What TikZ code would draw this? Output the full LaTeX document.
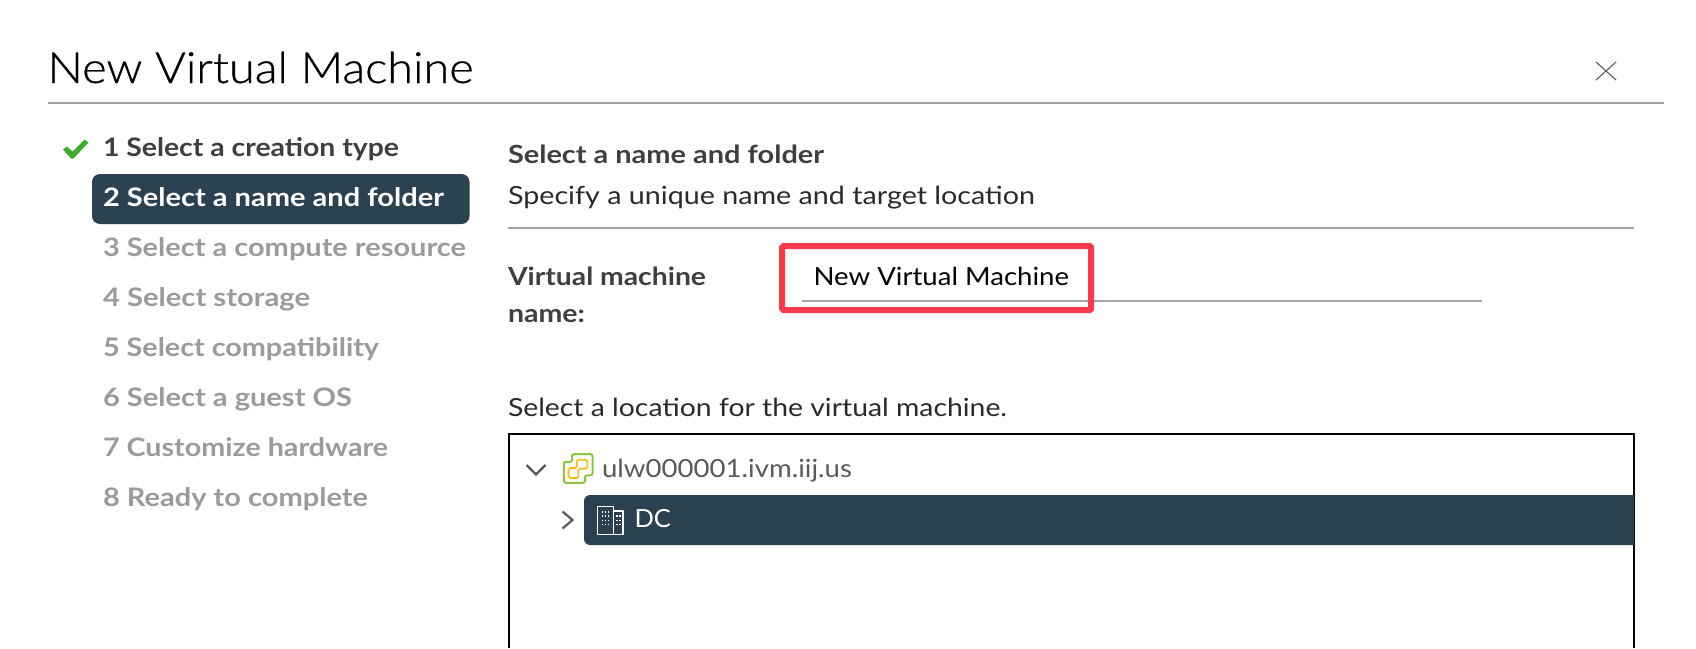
\documentclass[tikz,border=0pt]{standalone}
\usepackage{fontspec}
\usepackage{graphicx}
\setmainfont{Lato}
\newfontfamily\boldf{Lato Bold}
\newfontfamily\titlef{Lato Light}[FakeBold=0.6]
\definecolor{navy}{HTML}{2B4150}
\definecolor{rulegray}{HTML}{A3A3A3}
\definecolor{stepgray}{HTML}{9B9B9B}
\definecolor{bodydark}{HTML}{2A2A2A}
\definecolor{stepdark}{HTML}{3F3F3F}
\definecolor{redbox}{HTML}{FB3A4C}
\definecolor{treegray}{HTML}{5A5A5A}
\definecolor{okgreen}{HTML}{3DAE2B}
\definecolor{iconlime}{HTML}{8CC63F}
\definecolor{iconyellow}{HTML}{FDBA12}
\newcommand{\fw}[2]{\resizebox{#1pt}{\height}{#2}}
\tikzset{
  x=1pt,y=-1pt,
  txt/.style={anchor=base west,inner sep=0pt,outer sep=0pt},
  stepfont/.style={txt,font=\boldf\fontsize{25.5}{25.5}\selectfont},
  off/.style={stepfont,text=stepgray},
  bodyt/.style={txt,font=\fontsize{25}{25}\selectfont,text=bodydark},
  lbl/.style={txt,font=\boldf\fontsize{25}{25}\selectfont,text=stepdark},
  hairline/.style={draw=rulegray,line width=1.6pt},
  pill/.style={fill=navy,draw=none}
}
\begin{document}
\begin{tikzpicture}
\useasboundingbox (0,0) rectangle (1696,648);
\fill[white] (0,0) rectangle (1696,648);
% title
\node[txt,font=\titlef\fontsize{43}{43}\selectfont,text=black] (title) at (47.5,83) {\fw{426}{New Virtual Machine}};
\draw[hairline] (48,103) -- (1664,103);
\draw[line width=1.1pt,treegray,line cap=round] (1596,62) -- (1616,80) (1616,62) -- (1596,80);
% steps
\fill[okgreen] (63,149.5) -- (67,146.5) -- (72.5,151.5) -- (84.5,139.5) -- (88.5,142.5) -- (73.5,158.5) -- (71,158.5) -- cycle;
\fill[pill,rounded corners=8pt] (92,174) rectangle (469.5,224);
\node[stepfont,text=stepdark] (s1) at (103,156) {\fw{296}{1 Select a creation type}};
\node[stepfont,text=white] (s2) at (103,206) {\fw{341}{2 Select a name and folder}};
\node[off] (s3) at (103,256) {\fw{363}{3 Select a compute resource}};
\node[off] (s4) at (103,306) {\fw{207}{4 Select storage}};
\node[off] (s5) at (103,356) {\fw{276}{5 Select compatibility}};
\node[off] (s6) at (103,406) {\fw{249}{6 Select a guest OS}};
\node[off] (s7) at (103,456) {\fw{285}{7 Customize hardware}};
\node[off] (s8) at (103,506) {\fw{265}{8 Ready to complete}};
% right
\node[lbl] (head) at (508,163) {\fw{316}{Select a name and folder}};
\node[bodyt] (sub) at (508,204.5) {\fw{527}{Specify a unique name and target location}};
\draw[hairline] (508,228) -- (1634,228);
\node[lbl] (vm1) at (508,285) {\fw{198}{Virtual machine}};
\node[lbl] (vm2) at (508,322) {\fw{77}{name:}};
\draw[line width=1.6pt,draw=rulegray] (802,300.7) -- (1482,300.7);
\node[bodyt,text=black] (vmname) at (813.5,285) {\fw{255.5}{New Virtual Machine}};
\draw[draw=redbox,line width=6pt,rounded corners=1.5pt] (782,246) rectangle (1091,310);
\node[bodyt] (loc) at (508,416.5) {\fw{499}{Select a location for the virtual machine.}};
% tree box
\draw[black,line width=2.4pt] (509.2,648) -- (509.2,434.2) -- (1633.8,434.2) -- (1633.8,648);
\draw[treegray,line width=2.2pt] (526.5,465) -- (536,474.5) -- (545.5,465);
% vcenter icon
\draw[iconlime,line width=2pt,rounded corners=2pt] (563.8,462) -- (572,462) -- (572,454.2) -- (592.5,454.2) -- (592.5,475.3) -- (585,475.3) -- (585,482.8) -- (563.8,482.8) -- cycle;
\draw[iconyellow,line width=1.6pt,rounded corners=1.5pt] (568.5,468) -- (576.7,468) -- (576.7,459.7) -- (587.3,459.7) -- (587.3,468.7) -- (578.3,468.7) -- (578.3,478) -- (568.5,478) -- cycle;
\node[txt,font=\fontsize{25}{25}\selectfont,text=treegray] (host) at (602,477) {\fw{250}{ulw000001.ivm.iij.us}};
% DC row
\fill[pill] (1634,495) [rounded corners=6pt] -- (584,495) -- (584,545) [sharp corners] -- (1634,545) -- cycle;
\draw[treegray,line width=2.2pt] (562.5,511.5) -- (572.5,520) -- (562.5,528.5);
\draw[white,line width=1.4pt,line join=round] (597.5,534.2) -- (597.5,506.5) -- (613.2,506.5) -- (613.2,534.2) -- cycle (613.2,511) -- (622.8,511) -- (622.8,534.2) -- (613.2,534.2);
\draw[white,line width=1.5pt,dash pattern=on 1.7pt off 1.4pt] (601.5,512) -- (610.5,512) (601.5,516.2) -- (610.5,516.2) (601.5,520.4) -- (610.5,520.4) (601.5,524.6) -- (610.5,524.6) (616,516.2) -- (620.5,516.2) (616,520.4) -- (620.5,520.4) (616,524.6) -- (620.5,524.6);
\node[txt,font=\fontsize{25}{25}\selectfont,text=white] (dc) at (634.5,527) {\fw{36.5}{DC}};
\end{tikzpicture}
\end{document}
